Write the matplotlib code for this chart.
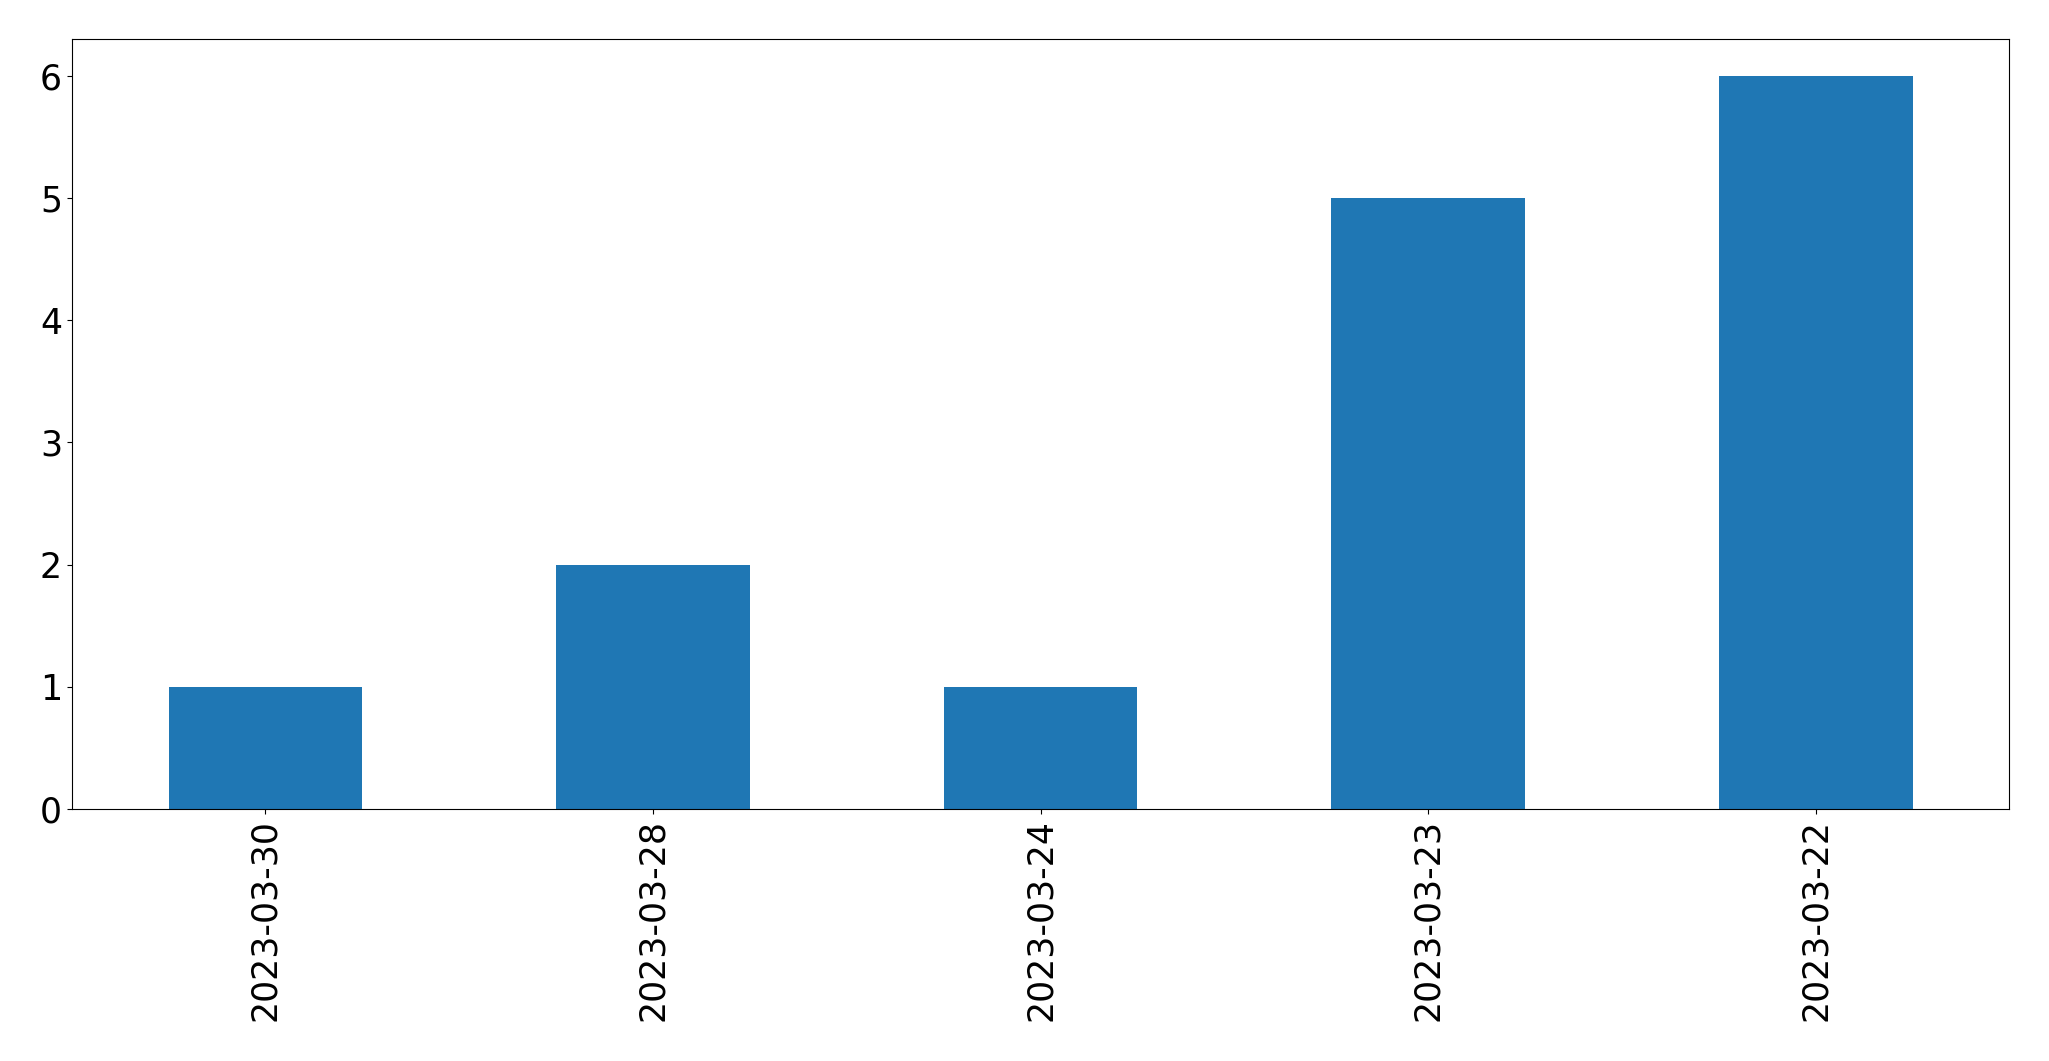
import matplotlib
matplotlib.use('Agg')
import matplotlib.pyplot as plt
import pandas as pd

# dates and counts
dates = ['2023-03-30', '2023-03-28', '2023-03-24', '2023-03-23', '2023-03-22']
counts = [1, 2, 1, 5, 6]

s = pd.Series(counts, index=dates)

fig = plt.figure(figsize=(20.49, 10.61), dpi=100)
ax = fig.add_axes([0.035, 0.2375, 0.9457, 0.7255])
s.plot(kind='bar', ax=ax, color='#1f77b4')
ax.tick_params(axis='both', labelsize=25)
fig.savefig('out.png', dpi=100)
